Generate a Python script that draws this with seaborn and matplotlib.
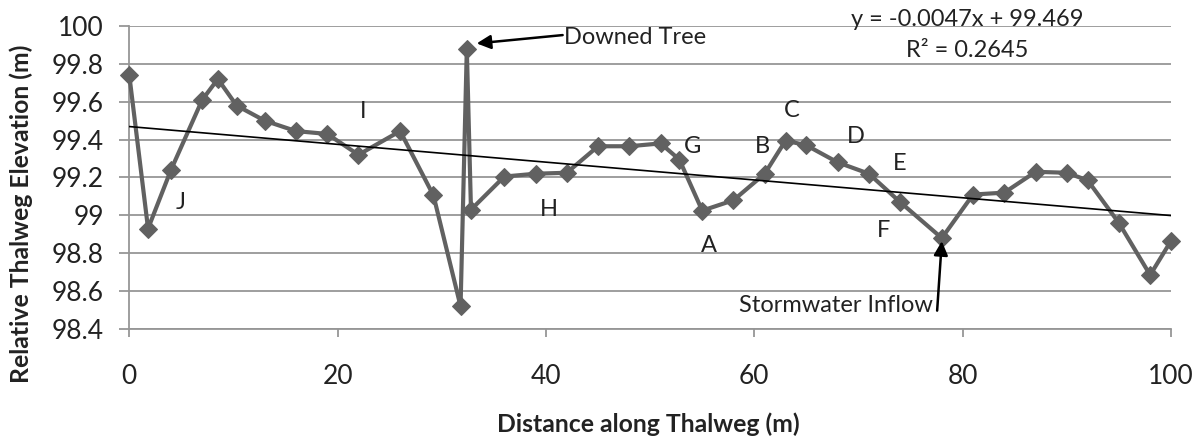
import numpy as np
import pandas as pd
import matplotlib
matplotlib.use("Agg")
import matplotlib.pyplot as plt
import seaborn as sns

# Thalweg survey: distance along channel (m) and relative bed elevation (m)
distance = [0, 1.8, 4, 7, 8.5, 10.3, 13, 16, 19, 22, 26, 29.2, 31.8, 32.4, 32.8,
            36, 39, 42, 45, 48, 51, 52.8, 55, 58, 61, 63, 65, 68, 71, 74,
            78, 81, 84, 87, 90, 92, 95, 98, 100]
elevation = [99.74, 98.93, 99.24, 99.61, 99.72, 99.58, 99.50, 99.445, 99.43, 99.32,
             99.445, 99.105, 98.52, 99.88, 99.03, 99.205, 99.22, 99.225, 99.365,
             99.365, 99.38, 99.295, 99.025, 99.08, 99.22, 99.395, 99.37, 99.28,
             99.22, 99.07, 98.88, 99.11, 99.12, 99.23, 99.225, 99.185, 98.96,
             98.685, 98.865]

# Linear trend of elevation with distance
trend_slope = -0.0047
trend_intercept = 99.469
trend_r2 = 0.2645

# Channel feature labels
feature_names = ["J", "I", "H", "A", "G", "B", "C", "D", "E", "F"]
feature_x = [4.9, 22.4, 40.3, 55.6, 54.1, 60.8, 63.6, 69.7, 74.0, 72.4]
feature_y = [99.07, 99.55, 99.03, 98.84, 99.365, 99.365, 99.555, 99.415, 99.275, 98.92]

sns.set_theme(style="white")
plt.rcParams["font.family"] = ["Lato", "DejaVu Sans"]

profile = pd.DataFrame({"distance": distance, "elevation": elevation})

fig = plt.figure(figsize=(12, 4.38), dpi=100)
ax = fig.add_axes([0.10775, 0.24886, 0.86808, 0.69178])

grid_col = "#969696"
series_col = "#616161"
text_col = "#222222"

ax.set_xlim(0, 100)
ax.set_ylim(98.4, 100)
ax.set_xticks(np.arange(0, 101, 20))
ax.set_yticks(np.round(np.arange(98.4, 100.01, 0.2), 1))
ax.set_yticklabels(["98.4", "98.6", "98.8", "99", "99.2", "99.4", "99.6", "99.8", "100"])
ax.yaxis.grid(True, color=grid_col, lw=1.3)
ax.xaxis.grid(False)
ax.set_axisbelow(True)

for side in ["top", "right"]:
    ax.spines[side].set_visible(False)
for side in ["left", "bottom"]:
    ax.spines[side].set_color(grid_col)
    ax.spines[side].set_linewidth(1.3)

ax.tick_params(axis="y", which="major", length=7.2, width=1.3, color=grid_col,
               direction="out", pad=11, labelsize=19, labelcolor=text_col, left=True)
ax.tick_params(axis="x", which="major", length=6, width=1.3, color=grid_col,
               direction="out", pad=19, labelsize=19, labelcolor=text_col, bottom=True)

# Elevation profile
sns.lineplot(data=profile, x="distance", y="elevation", ax=ax, sort=False,
             estimator=None, color=series_col, lw=3.0, marker="D", markersize=9,
             markeredgecolor=series_col, markerfacecolor=series_col, clip_on=False,
             zorder=3)

# Trend line
trend_x = np.array([0, 100])
trend_y = trend_slope * trend_x + trend_intercept
sns.lineplot(x=trend_x, y=trend_y, ax=ax, color="black", lw=1.2, zorder=4)

ax.set_xlabel("")
ax.set_ylabel("")

ann_size = 17
ax.text(80.4, 100.0, f"y = {trend_slope}x + {trend_intercept}", ha="center",
        va="baseline", fontsize=ann_size, color=text_col)
ax.text(80.4, 99.834, f"R² = {trend_r2}", ha="center", va="baseline",
        fontsize=ann_size, color=text_col)

for name, fx, fy in zip(feature_names, feature_x, feature_y):
    ax.text(fx, fy, name, ha="center", va="center", fontsize=ann_size, color=text_col)

# Downed tree callout
ax.text(41.7, 99.94, "Downed Tree", ha="left", va="center", fontsize=ann_size,
        color=text_col)
ax.annotate("", xy=(33.35, 99.908), xytext=(41.6, 99.952),
            arrowprops=dict(arrowstyle="-|>,head_length=0.7,head_width=0.35",
                            color="black", lw=1.8, shrinkA=0, shrinkB=0))

# Stormwater inflow callout
ax.text(77.1, 98.525, "Stormwater Inflow", ha="right", va="center",
        fontsize=ann_size, color=text_col)
ax.annotate("", xy=(78.0, 98.864), xytext=(77.55, 98.497),
            arrowprops=dict(arrowstyle="-|>,head_length=0.7,head_width=0.35",
                            color="black", lw=1.8, shrinkA=0, shrinkB=0))

fig.text(0.54, 0.032, "Distance along Thalweg (m)", ha="center", va="center",
         fontsize=17.8, fontweight="bold", color=text_col)
fig.text(0.018, 0.5126, "Relative Thalweg Elevation (m)", ha="center", va="center",
         rotation=90, fontsize=17.8, fontweight="bold", color=text_col)

fig.savefig("out.png", dpi=100)
